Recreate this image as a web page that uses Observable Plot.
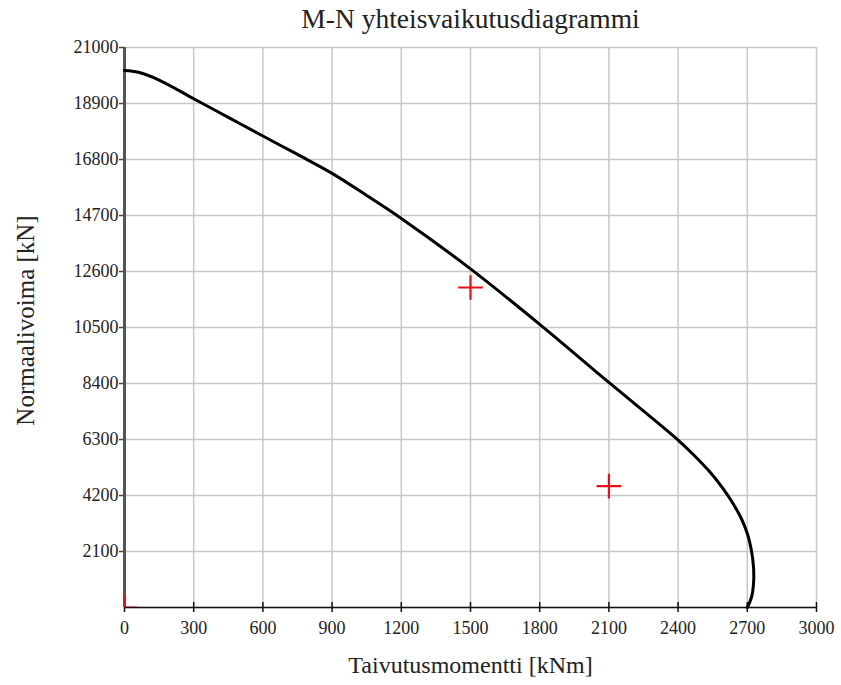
<!DOCTYPE html>
<html>
<head>
<meta charset="utf-8">
<script src="https://cdn.jsdelivr.net/npm/d3@7"></script>
<script src="https://cdn.jsdelivr.net/npm/@observablehq/plot@0.6"></script>
<style>
  body { margin: 0; background: #fff; }
  svg, svg g, svg text { font-family: 'Liberation Serif', 'Times New Roman', serif !important; font-variant: normal !important; font-variant-numeric: normal !important; }
</style>
</head>
<body>
<div id="chart"></div>
<script>
const titleText = "M-N yhteisvaikutusdiagrammi";
const xLabel = "Taivutusmomentti [kNm]";
const yLabel = "Normaalivoima [kN]";

const xTicks = [0, 300, 600, 900, 1200, 1500, 1800, 2100, 2400, 2700, 3000];
const yTicks = [2100, 4200, 6300, 8400, 10500, 12600, 14700, 16800, 18900, 21000];
const yGrid = [0, 2100, 4200, 6300, 8400, 10500, 12600, 14700, 16800, 18900, 21000];

// interaction curve (M, N)
const curveM = [0, 60, 150, 300, 450, 600, 750, 900, 1050, 1200, 1500, 1800, 2100, 2400, 2470, 2540, 2595, 2630, 2672, 2700, 2718, 2727, 2727, 2718, 2700];
const curveN = [20140, 20070, 19780, 19080, 18380, 17680, 16990, 16280, 15450, 14590, 12700, 10620, 8440, 6280, 5700, 5060, 4460, 4010, 3375, 2775, 2140, 1500, 900, 375, 0];

// load points
const loadM = [1500, 2100, 0];
const loadN = [12000, 4550, 0];

const curve = curveM.map((m, i) => ({M: m, N: curveN[i]}));
const loads = loadM.map((m, i) => ({M: m, N: loadN[i]}));

const serif = "'Liberation Serif', 'Times New Roman', serif";

const chart = Plot.plot({
  width: 841,
  height: 685,
  marginLeft: 124,
  marginRight: 25,
  marginTop: 47,
  marginBottom: 78,
  style: {fontFamily: serif, fontSize: "18px", color: "#222", background: "#fff"},
  x: {domain: [0, 3000]},
  y: {domain: [0, 21000]},
  marks: [
    Plot.gridX(xTicks, {stroke: "#c8c8c8", strokeOpacity: 1, strokeWidth: 1.5}),
    Plot.gridY(yGrid, {stroke: "#c8c8c8", strokeOpacity: 1, strokeWidth: 1.5}),
    Plot.axisX({ticks: xTicks, tickSize: 5, tickPadding: 9, tickFormat: d => String(d), label: null, fontSize: 18, fontFamily: serif, stroke: "#111", strokeWidth: 1.5}),
    Plot.axisX({ticks: xTicks, tickSize: -5, tickFormat: () => "", label: null, stroke: "#111", strokeWidth: 1.5}),
    Plot.axisY({ticks: yTicks, tickSize: 5, tickPadding: 1, tickFormat: d => String(d), label: null, fontSize: 18, fontFamily: serif, stroke: "#444", strokeWidth: 1.5}),
    Plot.ruleY([0], {stroke: "#111", strokeWidth: 1.5}),
    Plot.ruleX([0], {stroke: "#555", strokeWidth: 3}),
    Plot.line(curve, {x: "M", y: "N", stroke: "#000", strokeWidth: 3, curve: "catmull-rom"}),
    Plot.dot(loads, {x: "M", y: "N", symbol: "plus", r: 8, stroke: "#e8101a", strokeWidth: 2.2, clip: true}),
    Plot.text([titleText], {frameAnchor: "top", lineAnchor: "middle", textAnchor: "middle", dy: -28, fontSize: 27.5, fontFamily: serif, fill: "#222"}),
    Plot.text([xLabel], {frameAnchor: "bottom", lineAnchor: "middle", textAnchor: "middle", dy: 58, fontSize: 24, fontFamily: serif, fill: "#222"}),
    Plot.text([yLabel], {frameAnchor: "left", lineAnchor: "middle", textAnchor: "middle", dx: -99, dy: -7, rotate: -90, fontSize: 25, fontFamily: serif, fill: "#222"})
  ]
});
document.getElementById("chart").appendChild(chart);
</script>
</body>
</html>
